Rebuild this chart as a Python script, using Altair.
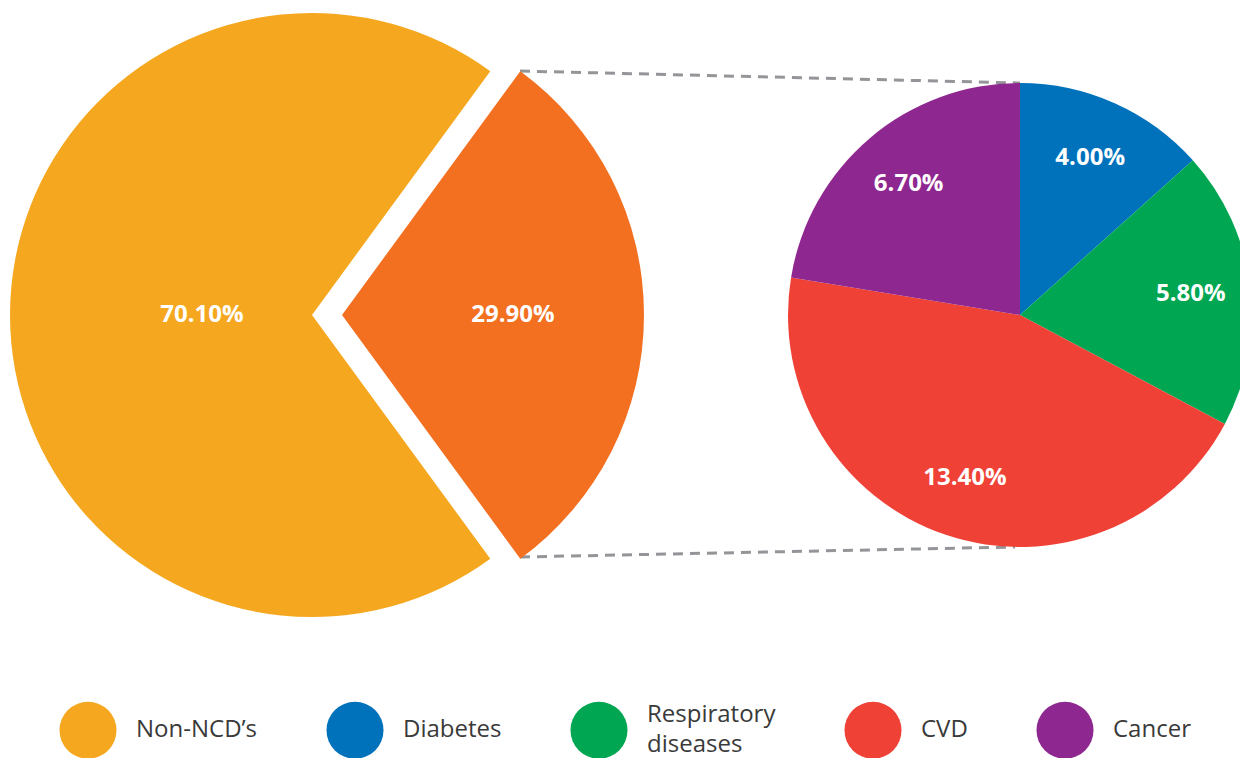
import math
import altair as alt
import pandas as pd

# ---- data ----
big_labels = ["NCD’s", "Non-NCD’s"]
big_values = [29.9, 70.1]
small_labels = ["Diabetes", "Respiratory diseases", "CVD", "Cancer"]
small_values = [4.0, 5.8, 13.4, 6.7]
legend_labels = ["Non-NCD’s", "Diabetes", "Respiratory diseases", "CVD", "Cancer"]
colors = ["#F37021", "#F5A81F", "#0072BC", "#00A651", "#EF4136", "#8E278F"]


def table(labels, values):
    df = pd.DataFrame({"category": labels, "value": values})
    df["end"] = df["value"].cumsum()
    df["start"] = df["end"] - df["value"]
    df["mid"] = (df["start"] + df["end"]) / 2
    df["text"] = df["value"].map(lambda v: f"{v:.2f}%")
    return df


big = table(big_labels, big_values)
small = table(small_labels, small_values)
big_total = float(sum(big_values))
small_total = float(sum(small_values))

# the NCD slice is centred on 3 o'clock
offset = math.pi / 2 - math.pi * big_values[0] / big_total
big_theta = alt.Scale(domain=[0, big_total], range=[offset, offset + 2 * math.pi])
small_theta = alt.Scale(domain=[0, small_total], range=[0, 2 * math.pi])

legend_kw = dict(
    orient="none",
    legendX=51,
    legendY=693,
    direction="horizontal",
    values=legend_labels,
    symbolType="circle",
    symbolSize=3250,
    symbolStrokeWidth=0,
    symbolOpacity=1,
    labelFont="Open Sans",
    labelFontSize=24,
    labelColor="#3a3a3a",
    labelOffset=19,
    labelLimit=0,
    columnPadding=68,
    labelExpr="datum.label == 'Respiratory diseases' ? ['Respiratory', 'diseases'] : datum.label",
)

BIG_X, BIG_Y, BIG_R = 304, 307, 302
EXPLODE = 30
SMALL_X, SMALL_Y, SMALL_R = 1012, 307, 232

ncd = big[big["category"] == big_labels[0]]
non = big[big["category"] == big_labels[1]]


def build(legend, style=True):
    color = alt.Color(
        "category:N",
        scale=alt.Scale(domain=big_labels + small_labels, range=colors),
        title=None,
        legend=legend,
    )
    dash = dict(strokeDash=[10, 7], strokeWidth=3, color="#939598")
    one = alt.Data(values=[{}])
    rule_top = alt.Chart(one).mark_rule(**dash).encode(
        x=alt.value(512), y=alt.value(63), x2=alt.value(1012), y2=alt.value(75)
    )
    rule_bot = alt.Chart(one).mark_rule(**dash).encode(
        x=alt.value(512), y=alt.value(549), x2=alt.value(1007), y2=alt.value(539)
    )
    non_arc = alt.Chart(non).mark_arc(radius=BIG_R).encode(
        theta=alt.Theta("start:Q", scale=big_theta),
        theta2="end:Q",
        color=color,
        x=alt.value(BIG_X),
        y=alt.value(BIG_Y),
    )
    ncd_arc = alt.Chart(ncd).mark_arc(radius=BIG_R).encode(
        theta=alt.Theta("start:Q", scale=big_theta),
        theta2="end:Q",
        color=color,
        x=alt.value(BIG_X + EXPLODE),
        y=alt.value(BIG_Y),
    )
    small_arc = alt.Chart(small).mark_arc(radius=SMALL_R).encode(
        theta=alt.Theta("start:Q", scale=small_theta),
        theta2="end:Q",
        color=color,
        x=alt.value(SMALL_X),
        y=alt.value(SMALL_Y),
    )
    txt = dict(font="Open Sans", fontWeight="bold", fontSize=24, color="white",
               align="center", baseline="middle")
    non_txt = alt.Chart(non).mark_text(radius=110, **txt).encode(
        theta=alt.Theta("mid:Q", scale=big_theta),
        text="text:N",
        x=alt.value(BIG_X),
        y=alt.value(BIG_Y),
    )
    ncd_txt = alt.Chart(ncd).mark_text(radius=171, **txt).encode(
        theta=alt.Theta("mid:Q", scale=big_theta),
        text="text:N",
        x=alt.value(BIG_X + EXPLODE),
        y=alt.value(BIG_Y),
    )
    small_txt = alt.Chart(small).mark_text(radius=172, **txt).encode(
        theta=alt.Theta("mid:Q", scale=small_theta),
        text="text:N",
        x=alt.value(SMALL_X),
        y=alt.value(SMALL_Y),
    )
    c = (
        alt.layer(rule_top, rule_bot, non_arc, ncd_arc, small_arc, non_txt, ncd_txt, small_txt)
        .resolve_scale(theta="independent")
        .properties(width=1232, height=750, autosize=alt.AutoSizeParams(type="none"), padding=0)
    )
    if style:
        c = c.configure(style={"guide-label": {"lineHeight": 30}})
    return c.configure_view(strokeWidth=0)


try:
    chart = build(alt.Legend(
        labelBaseline=alt.ExprRef(
            expr="datum.value == 'Respiratory diseases' ? 'line-bottom' : 'middle'"),
        **legend_kw))
    chart.to_dict()
except Exception:
    chart = build(alt.Legend(labelBaseline="middle", **legend_kw), style=False)

chart.save("out.html", embed_options={"renderer": "svg", "actions": False})
